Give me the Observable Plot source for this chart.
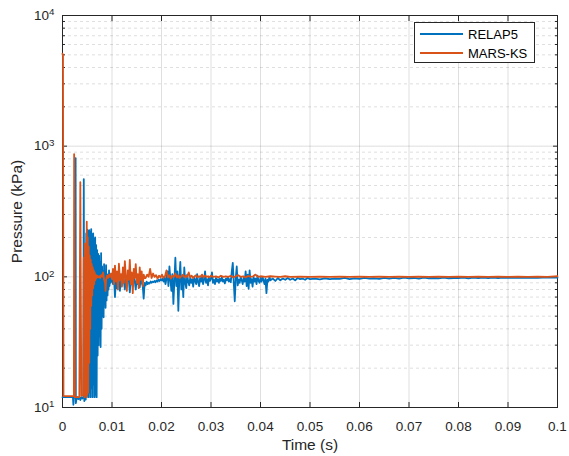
<!DOCTYPE html>
<html><head><meta charset="utf-8">
<script src="https://cdn.jsdelivr.net/npm/d3@7"></script>
<script src="https://cdn.jsdelivr.net/npm/@observablehq/plot@0.6"></script>
<style>
body{margin:0;background:#fff;}
#wrap{position:relative;width:569px;height:456px;font-family:"Liberation Sans",Arial,sans-serif;}
#legend{position:absolute;left:414px;top:22px;width:121px;height:41px;border:1px solid #262626;background:#fff;box-sizing:border-box;font-size:13px;color:#000;}
#legend .item{position:absolute;left:5px;height:14px;display:flex;align-items:center;}
#legend .item span{margin-left:5px;}
</style></head><body><div id="wrap"></div><script>
// ---- data ----
const seriesNames = ["RELAP5", "MARS-KS"];
const seriesColors = ["#0072BD", "#D95319"];
const xTicks = [0, 0.01, 0.02, 0.03, 0.04, 0.05, 0.06, 0.07, 0.08, 0.09, 0.1];
const xTickLabels = ["0", "0.01", "0.02", "0.03", "0.04", "0.05", "0.06", "0.07", "0.08", "0.09", "0.1"];
const yMajorTicks = [10, 100, 1000, 10000];
const yTickExponents = ["1", "2", "3", "4"];
const yMinorTicks = [20,30,40,50,60,70,80,90,200,300,400,500,600,700,800,900,2000,3000,4000,5000,6000,7000,8000,9000];

// [time (s), pressure (kPa)]
const relap5 = [
[0,12],[0.0021,12],[0.0022,10.5],[0.0023,11.8],[0.0025,12],[0.0026,12],[0.00265,810],[0.0027,10.8],[0.0028,11.5],[0.0030,12],[0.0032,11.6],[0.0034,12],[0.0036,11.4],[0.0038,12],[0.0040,11.7],[0.0042,12],[0.0043,560],[0.0044,11.2],[0.0045,12],
[0.0046,140],[0.0047,11.5],[0.0048,215],[0.0049,12],[0.0050,230],[0.0051,12.5],[0.0052,225],[0.0053,12],[0.0054,228],[0.0055,13],[0.0056,220],[0.0057,12],[0.0058,232],[0.0059,14],[0.0060,210],[0.0061,12],[0.0062,215],[0.0063,15],[0.0064,195],[0.0065,12],[0.0066,200],[0.0067,12.5],[0.0068,175],[0.0069,12],[0.0070,160],[0.0071,25],[0.0072,150],[0.0073,30],[0.0074,145],[0.0075,35],[0.0076,130],[0.0077,29],[0.0078,152],[0.0079,40],[0.0080,120],[0.0081,50],[0.0082,110],[0.0083,49],[0.0084,125],[0.0085,62],[0.0086,100],[0.0087,58],[0.0088,123],[0.0089,66],[0.0090,105],[0.0091,72],[0.0092,98],[0.0093,80],[0.0094,112],[0.0095,85],[0.0096,96],[0.0097,90],[0.0098,104],[0.0099,92],[0.0100,97],
[0.0102,88],[0.0104,100],[0.0106,70],[0.0108,95],[0.0110,82],[0.0112,105],[0.0114,90],[0.0116,78],[0.0118,98],[0.0120,86],[0.0122,110],[0.0124,92],[0.0126,80],[0.0128,96],[0.0130,88],[0.0132,104],[0.0134,94],[0.0136,76],[0.0138,99],[0.0140,90],[0.0142,85],[0.0144,100],[0.0146,92],[0.0148,80],[0.0150,97],[0.0152,88],[0.0154,94],[0.0156,83],[0.0158,96],[0.0160,90],[0.0162,86],[0.0164,68],[0.0166,90],[0.0168,86],[0.0170,92],[0.0172,88],[0.0174,90],[0.0176,89],[0.0178,92],[0.0180,90],[0.0182,92],[0.0184,91],[0.0186,93],[0.0188,91],[0.0190,94],[0.0192,92],[0.0194,95],[0.0196,93],[0.0198,96],[0.0200,94],
[0.0202,97],[0.0204,92],[0.0206,100],[0.0208,88],[0.0210,96],[0.0212,110],[0.0214,85],[0.0216,120],[0.0218,95],[0.0220,78],[0.0222,105],[0.0224,62],[0.0226,92],[0.0228,140],[0.0230,85],[0.0232,110],[0.0234,55],[0.0236,96],[0.0238,130],[0.0240,80],[0.0242,100],[0.0244,70],[0.0246,118],[0.0248,90],[0.0250,82],[0.0252,104],[0.0254,92],[0.0256,86],[0.0258,98],[0.0260,90],[0.0262,96],[0.0264,84],[0.0266,100],[0.0268,93],[0.0270,88],[0.0272,105],[0.0274,91],[0.0276,85],[0.0278,98],[0.0280,92],[0.0282,100],[0.0284,88],[0.0286,95],[0.0288,110],[0.0290,90],[0.0292,96],[0.0294,86],[0.0296,100],[0.0298,93],[0.0300,97],
[0.0302,108],[0.0304,90],[0.0306,95],[0.0308,88],[0.0310,98],[0.0312,92],[0.0314,96],[0.0316,90],[0.0318,97],[0.0320,93],[0.0322,99],[0.0324,92],[0.0326,95],[0.0328,89],[0.0330,97],[0.0332,94],[0.0334,100],[0.0336,92],[0.0338,96],[0.0340,91],[0.0342,110],[0.0344,128],[0.0346,90],[0.0348,65],[0.0350,98],[0.0352,120],[0.0354,86],[0.0356,95],[0.0358,90],[0.0360,100],[0.0362,94],[0.0364,88],[0.0366,98],[0.0368,92],[0.0370,110],[0.0372,85],[0.0374,104],[0.0376,81],[0.0378,112],[0.0380,90],[0.0382,96],[0.0384,84],[0.0386,100],[0.0388,92],[0.0390,97],[0.0392,88],[0.0394,102],[0.0396,93],[0.0398,90],[0.0400,98],
[0.0402,92],[0.0404,100],[0.0406,94],[0.0408,88],[0.0410,97],[0.0412,75],[0.0414,95],[0.0416,92],[0.0418,100],[0.0420,94],[0.0425,97],[0.0430,93],[0.0435,98],[0.0440,94],[0.0445,97],[0.0450,95],[0.0455,98],[0.0460,95],[0.0465,97],[0.0470,94],[0.0475,98],[0.0480,96],[0.0485,97],[0.0490,95],[0.0495,98],[0.0500,96],
[0.051,97],[0.052,95.5],[0.053,97.5],[0.054,96],[0.055,97],[0.056,96.5],[0.057,98],[0.058,96],[0.059,97.5],[0.060,96.5],[0.061,98],[0.062,97],[0.063,97.5],[0.064,96.5],[0.065,98],[0.066,97],[0.067,98],[0.068,97],[0.069,98.5],[0.070,97.5],[0.071,98],[0.072,97],[0.073,98.5],[0.074,97.5],[0.075,98],[0.076,97.5],[0.077,98.5],[0.078,97.5],[0.079,98],[0.080,98],[0.081,98.5],[0.082,97.5],[0.083,98.5],[0.084,98],[0.085,98.5],[0.086,97.8],[0.087,98.6],[0.088,98],[0.089,98.5],[0.090,98.2],[0.091,98.8],[0.092,98.2],[0.093,98.7],[0.094,98.3],[0.095,98.8],[0.096,98.4],[0.097,98.8],[0.098,98.5],[0.099,99],[0.100,98.8]
];

const marsks = [
[0,5100],[0.0001,4900],[0.0002,12.2],[0.0023,12.2],[0.00235,870],[0.0025,12],[0.0034,12],[0.0036,530],[0.0038,12.3],[0.0042,12.5],[0.0043,140],[0.0044,12],[0.0045,180],[0.0046,12.5],[0.0047,150],[0.0048,12],[0.0049,265],[0.0050,12.5],[0.0051,200],[0.0052,13],[0.0053,170],[0.0054,22],[0.0055,145],[0.0056,40],[0.0057,135],[0.0058,60],[0.0059,125],[0.0060,72],[0.0061,118],[0.0062,82],[0.0063,112],[0.0064,88],[0.0065,108],[0.0066,94],[0.0067,104],[0.0068,97],[0.0070,102],[0.0072,99],[0.0074,101],[0.0076,98],[0.0078,103],[0.0080,100],[0.0082,108],[0.0084,96],[0.0086,90],[0.0087,78],[0.0088,95],[0.0090,102],[0.0092,98],[0.0094,104],[0.0096,100],[0.0098,106],[0.0100,96],
[0.0102,115],[0.0104,88],[0.0106,122],[0.0108,92],[0.0110,110],[0.0112,80],[0.0114,126],[0.0116,95],[0.0118,105],[0.0120,84],[0.0122,118],[0.0124,90],[0.0126,132],[0.0128,100],[0.0130,78],[0.0132,112],[0.0134,95],[0.0136,135],[0.0138,88],[0.0140,108],[0.0142,75],[0.0144,115],[0.0146,98],[0.0148,125],[0.0150,90],[0.0152,105],[0.0154,82],[0.0156,118],[0.0158,95],[0.0160,110],[0.0162,85],[0.0164,104],[0.0166,98],
[0.0168,98],[0.0171,104],[0.0174,100],[0.0177,115],[0.0180,98],[0.0183,106],[0.0186,100],[0.0189,103],[0.0192,97],[0.0195,102],[0.0198,99],[0.0201,104],[0.0204,98],[0.0207,101],[0.0210,112],[0.0213,99],[0.0216,103],[0.0219,97],[0.0222,102],[0.0225,100],[0.0228,106],[0.0231,99],[0.0234,103],[0.0237,98],[0.0240,101],[0.0243,104],[0.0246,99],[0.0249,102],[0.0252,100],[0.0255,108],[0.0258,99],[0.0261,102],[0.0264,98],[0.0267,101],[0.0270,103],[0.0273,99],[0.0276,101],[0.0279,100],[0.0282,104],[0.0285,99],[0.0288,102],[0.0291,100],[0.0294,101],[0.0297,99],[0.0300,102],[0.0305,100],[0.0310,101],[0.0315,99],[0.0320,102],[0.0325,100],[0.0330,101],[0.0335,100],[0.0340,102],[0.0345,99],[0.0350,101],[0.0355,103],[0.0360,100],[0.0365,101],[0.0370,99],[0.0375,102],[0.0380,100],[0.0385,101],[0.0390,104],[0.0395,100],[0.0400,101],[0.0410,100],[0.0420,101],[0.0430,100.5],[0.0440,100],[0.0450,101],[0.0460,100],
[0.048,100.5],[0.050,100],[0.052,100.5],[0.054,100],[0.056,100.3],[0.058,99.8],[0.060,100.2],[0.062,100],[0.064,100.3],[0.066,100],[0.068,100.2],[0.070,99.9],[0.072,100.2],[0.074,100],[0.076,100.3],[0.078,100],[0.080,100.2],[0.082,99.9],[0.084,100.2],[0.086,100],[0.088,100.3],[0.090,100],[0.092,100.2],[0.094,100],[0.096,100.2],[0.098,100],[0.100,101]
];

// ---- chart ----
const axisColor = "#262626";
const gridStyle = {stroke: axisColor, strokeOpacity: 0.15, strokeWidth: 1};

const chart = Plot.plot({
  width: 569, height: 456,
  marginLeft: 62, marginRight: 12, marginTop: 15, marginBottom: 49,
  style: {fontFamily: "'Liberation Sans', Arial, sans-serif", fontSize: "13.5px", color: axisColor, background: "#fff", overflow: "visible"},
  x: {type: "linear", domain: [0, 0.1]},
  y: {type: "log", domain: [10, 10000]},
  marks: [
    Plot.gridX(xTicks, gridStyle),
    Plot.gridY(yMinorTicks, {...gridStyle, strokeDasharray: "3,3"}),
    Plot.gridY(yMajorTicks, gridStyle),
    Plot.frame({stroke: axisColor, strokeWidth: 1}),
    Plot.axisX(xTicks, {anchor: "bottom", tickSize: -5, tickPadding: 19, stroke: axisColor, fill: axisColor,
      tickFormat: d => xTickLabels[xTicks.indexOf(d)], label: null}),
    Plot.axisX(xTicks, {anchor: "top", tickSize: -5, stroke: axisColor, fill: "none", label: null}),
    Plot.axisX([], {anchor: "bottom", tickSize: 0, fill: axisColor, fontSize: 15.5, label: "Time (s)", labelAnchor: "center", labelArrow: "none", labelOffset: 42}),
    Plot.axisY(yMinorTicks, {anchor: "left", tickSize: -3, stroke: axisColor, fill: "none", label: null}),
    Plot.axisY(yMinorTicks, {anchor: "right", tickSize: -3, stroke: axisColor, fill: "none", label: null}),
    Plot.axisY(yMajorTicks, {anchor: "right", tickSize: -5, stroke: axisColor, fill: "none", label: null}),
    Plot.axisY(yMajorTicks, {anchor: "left", tickSize: -5, tickPadding: 13, stroke: axisColor, fill: axisColor,
      tickFormat: d => "10^" + yTickExponents[yMajorTicks.indexOf(d)], label: null}),
    Plot.axisY([], {anchor: "left", tickSize: 0, fill: axisColor, fontSize: 15.5, label: "Pressure (kPa)", labelAnchor: "center", labelArrow: "none", labelOffset: 52}),
    Plot.line(relap5, {x: d => d[0], y: d => d[1], stroke: seriesColors[0], strokeWidth: 1.8}),
    Plot.line(marsks, {x: d => d[0], y: d => d[1], stroke: seriesColors[1], strokeWidth: 1.8})
  ]
});

// turn "10^n" tick labels into 10 with a superscript exponent
d3.select(chart).selectAll('g[aria-label="y-axis tick label"] text').each(function() {
  const s = this.textContent;
  if (!s.includes("^")) return;
  const [base, exp] = s.split("^");
  const t = d3.select(this);
  t.text(null);
  t.append("tspan").text(base);
  t.append("tspan").attr("dy", "-0.45em").attr("font-size", "0.72em").text(exp);
});

const wrap = document.getElementById("wrap");
wrap.appendChild(chart);

// legend (MATLAB style, line samples)
const legend = document.createElement("div");
legend.id = "legend";
seriesNames.forEach((name, i) => {
  const item = document.createElement("div");
  item.className = "item";
  item.style.top = (4 + i * 19) + "px";
  item.innerHTML = `<svg width="43" height="4"><line x1="0" x2="43" y1="2" y2="2" stroke="${seriesColors[i]}" stroke-width="1.8"/></svg><span>${name}</span>`;
  legend.appendChild(item);
});
wrap.appendChild(legend);
</script></body></html>
